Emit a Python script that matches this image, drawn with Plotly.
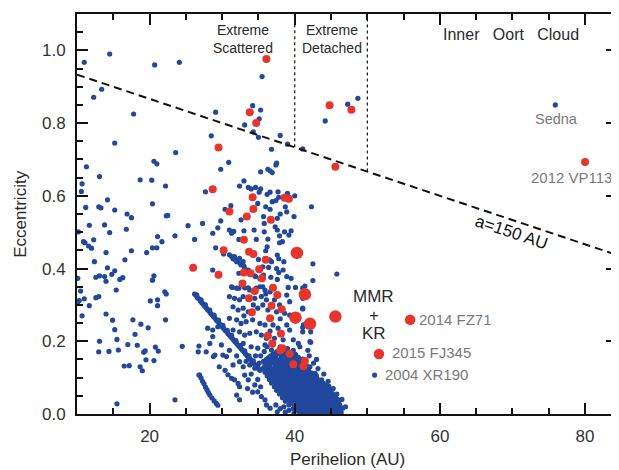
import plotly.graph_objects as go

# ---------------- data (perihelion q [AU], eccentricity e) ----------------
# sparse, low-perihelion population (q < 26 AU)
sparse_pts = [
    (14.5,0.99),(11.0,0.967),(20.7,0.96),(24.1,0.967),(13.4,0.893),(12.3,0.871),(17.8,0.825),
    (15.2,0.745),(23.6,0.719),(20.6,0.695),(21.0,0.688),(11.3,0.68),(13.1,0.653),(18.7,0.644),
    (20.3,0.643),(22.2,0.627),(10.7,0.633),(10.6,0.612),(14.2,0.589),(20.4,0.578),(11.2,0.568),
    (13.0,0.57),(13.3,0.567),(15.2,0.561),(16.9,0.55),(17.5,0.54),(22.3,0.545),(22.5,0.546),
    (11.7,0.519),(13.8,0.52),(16.8,0.508),(25.3,0.518),(14.5,0.499),(10.2,0.501),(10.9,0.474),
    (11.1,0.471),(12.3,0.479),(11.6,0.462),(12.0,0.456),(21.1,0.488),(21.7,0.474),(23.5,0.49),
    (20.4,0.457),(21.0,0.457),(17.5,0.449),(14.0,0.444),(19.6,0.444),(12.4,0.419),(16.6,0.424),
    (14.2,0.402),(15.2,0.394),(14.8,0.384),(12.6,0.376),(13.1,0.38),(13.8,0.378),(14.0,0.365),
    (15.9,0.37),(16.3,0.375),(20.6,0.38),(20.4,0.368),(10.1,0.373),(15.4,0.341),(10.5,0.338),
    (22.1,0.336),(22.3,0.33),(12.6,0.32),(13.0,0.323),(11.0,0.317),(10.3,0.312),(10.1,0.307),
    (20.1,0.311),(21.1,0.314),(21.1,0.298),(11.7,0.298),(10.7,0.27),(14.0,0.275),(14.9,0.258),
    (17.7,0.259),(22.2,0.259),(18.8,0.247),(19.8,0.237),(15.2,0.232),(18.0,0.219),(15.5,0.205),
    (13.1,0.2),(17.0,0.191),(18.3,0.189),(24.5,0.186),(13.0,0.171),(14.4,0.172),(15.7,0.176),
    (19.2,0.17),(19.4,0.174),(20.8,0.184),(21.2,0.173),(16.5,0.132),(17.2,0.133),(18.7,0.13),
    (19.0,0.119),(19.5,0.149),(20.6,0.147),(15.5,0.028),(23.5,0.039),
]

# scattered / detached objects, e > 0.33 region
upper_pts = [
    (35.5,0.928),(29.1,0.83),(34.2,0.848),(35.3,0.836),(35.1,0.812),(33.1,0.795),(34.3,0.776),
    (35.0,0.761),(28.5,0.765),(38.0,0.766),(36.8,0.728),(39.0,0.742),(41.1,0.729),(44.2,0.806),
    (47.3,0.852),(48.7,0.868),(30.9,0.692),(37.5,0.69),(37.4,0.685),(29.8,0.673),(36.3,0.673),
    (42.3,0.57),(35.3,0.666),(36.6,0.669),(36.9,0.664),(33.0,0.641),(32.4,0.627),(33.6,0.623),
    (34.0,0.619),(34.6,0.623),(35.3,0.619),(27.7,0.611),(35.1,0.61),(36.6,0.61),(36.2,0.604),
    (37.7,0.611),(39.0,0.607),(40.0,0.6),(37.8,0.596),(37.4,0.587),(36.9,0.584),(34.9,0.579),
    (36.0,0.57),(30.4,0.563),(31.2,0.573),(36.6,0.563),(38.7,0.57),(38.9,0.556),(38.0,0.55),
    (39.9,0.543),(35.7,0.543),(37.6,0.538),(29.8,0.531),(32.6,0.534),(27.3,0.524),(35.8,0.524),
    (37.3,0.515),(37.6,0.506),(34.4,0.506),(35.8,0.501),(33.0,0.504),(31.6,0.502),(31.3,0.497),
    (38.6,0.501),(39.2,0.492),(39.5,0.504),(37.9,0.49),(26.2,0.48),(32.3,0.48),(34.7,0.48),
    (36.3,0.481),(37.9,0.471),(38.3,0.474),(36.2,0.46),(36.0,0.449),(29.1,0.457),(31.0,0.438),
    (31.3,0.433),(31.5,0.427),(31.8,0.424),(32.0,0.419),(32.4,0.416),(32.6,0.41),(33.0,0.407),
    (30.2,0.44),(37.6,0.437),(37.8,0.427),(35.0,0.425),(36.5,0.424),(36.8,0.419),(38.5,0.419),
    (42.5,0.413),(28.7,0.396),(35.6,0.405),(36.4,0.403),(37.5,0.4),(37.8,0.389),(38.4,0.396),
    (33.6,0.396),(33.1,0.4),(32.3,0.387),(34.5,0.38),(35.7,0.382),(36.7,0.376),(37.6,0.37),
    (38.9,0.378),(39.5,0.373),(41.4,0.352),(42.5,0.367),(31.4,0.348),(32.3,0.346),(33.6,0.347),
    (34.7,0.346),(35.6,0.35),(39.1,0.348),(40.1,0.348),(45.8,0.385),(31.7,0.433),(32.4,0.428),
    (32.9,0.419),(28.7,0.497),(29.4,0.512),(31.0,0.506),(33.4,0.392),(34.0,0.385),(34.6,0.378),
    (35.2,0.372),(41.1,0.346),
]

# 3:2 resonance ridge (Plutinos)
plutino_pts = [
    (26.2,0.330),(26.4,0.326),(26.6,0.320),(26.8,0.317),(27.0,0.311),(27.2,0.306),(27.4,0.302),
    (27.6,0.296),(27.8,0.292),(28.0,0.287),(28.2,0.283),(28.4,0.277),(28.6,0.273),(28.8,0.268),
    (29.0,0.264),(29.2,0.258),(29.4,0.255),(29.6,0.249),(29.8,0.245),(30.0,0.240),(30.2,0.236),
    (30.4,0.230),(30.6,0.227),(30.8,0.221),(31.0,0.217),(31.2,0.212),(31.4,0.208),(31.6,0.203),
    (31.8,0.198),(32.0,0.194),(32.2,0.189),(32.4,0.185),(32.6,0.180),(32.8,0.175),(33.0,0.171),
    (33.2,0.166),(33.4,0.161),(33.6,0.157),(33.8,0.152),(34.0,0.148),(34.2,0.143),(34.4,0.138),
    (34.6,0.134),(34.8,0.129),(35.0,0.125),(35.2,0.120),
    (26.5,0.328),(27.1,0.314),(27.7,0.300),(28.3,0.286),(28.9,0.272),(29.5,0.258),(30.1,0.244),
    (30.7,0.230),(31.3,0.216),(31.9,0.202),(32.5,0.188),(33.1,0.174),(33.7,0.160),(34.3,0.146),
    (34.9,0.132),
]

# short ridge near Neptune's orbit
ridge_pts = [
    (26.9,0.107),(27.1,0.099),(27.3,0.09),(27.5,0.083),(27.7,0.074),(27.9,0.067),(28.1,0.059),
    (28.3,0.052),(28.6,0.044),(28.9,0.036),(29.2,0.029),(29.4,0.024),
]

# objects above the Plutino ridge (0.15 < e < 0.35)
mid_pts = [
    (31.3,0.35),(32.0,0.346),(33.1,0.347),(33.8,0.341),(35.2,0.35),(35.9,0.341),(36.6,0.336),
    (31.0,0.323),(31.7,0.318),(32.4,0.314),(32.9,0.323),(34.5,0.318),(35.4,0.323),(36.1,0.314),
    (37.2,0.314),(38.9,0.327),(39.3,0.309),(31.5,0.295),(32.2,0.286),(32.9,0.291),(33.6,0.281),
    (34.9,0.291),(35.6,0.3),(36.3,0.286),(37.5,0.281),(38.6,0.277),(39.3,0.272),(41.1,0.291),
    (31.0,0.263),(32.0,0.259),(32.6,0.249),(33.3,0.254),(34.2,0.259),(35.2,0.249),(35.9,0.245),
    (37.0,0.245),(37.7,0.236),(38.9,0.245),(39.3,0.231),(41.1,0.226),(31.5,0.231),(32.4,0.226),
    (33.1,0.217),(33.8,0.222),(34.7,0.226),(35.4,0.217),(36.1,0.208),(37.2,0.208),(38.4,0.204),
    (39.8,0.204),(40.5,0.194),(32.9,0.194),(34.0,0.185),(34.9,0.181),(35.9,0.19),(36.8,0.176),
    (37.5,0.171),(38.6,0.171),(39.3,0.162),(40.2,0.153),(41.1,0.318),(41.1,0.289),(41.2,0.245),
    (41.1,0.238),(42.2,0.226),(42.2,0.197),(42.1,0.199),(40.7,0.185),(41.8,0.175),(42.0,0.16),
    (43.0,0.15),(36.0,0.33),(37.9,0.3),(38.0,0.262),(36.6,0.228),(34.3,0.3),(33.0,0.27),
    (35.3,0.16),(35.8,0.172),(36.2,0.185),(37.0,0.19),(38.0,0.185),(39.0,0.18),(39.8,0.175),
    (34.6,0.16),(35.1,0.14),
]

# objects below / left of the Plutino ridge
low_pts = [
    (26.8,0.187),(26.7,0.171),(27.8,0.171),(28.3,0.194),(28.7,0.213),(28.0,0.236),(29.0,0.162),
    (28.8,0.158),(30.1,0.162),(30.6,0.158),(29.9,0.19),(28.7,0.231),(29.4,0.24),(31.3,0.098),
    (31.7,0.094),(32.2,0.084),(32.4,0.075),(31.5,0.135),(33.1,0.107),(33.6,0.094),(34.5,0.08),
    (34.9,0.061),(35.4,0.048),(35.9,0.039),(36.1,0.025),(36.6,0.016),(33.8,0.135),(34.5,0.126),
    (32.4,0.144),(32.9,0.13),(30.4,0.12),(29.6,0.13),(31.0,0.175),(32.0,0.16),(33.3,0.145),
    (34.0,0.11),(34.9,0.095),(35.3,0.075),(34.2,0.06),(32.0,0.052),(32.4,0.039),(33.5,0.07),
    (30.8,0.108),(26.8,0.107),
]

# classical Kuiper belt (dense core)
classical_pts = [
    (37.0,0.165),(37.8,0.166),(38.6,0.163),(39.4,0.166),(40.1,0.164),
    (36.4,0.155),(37.3,0.156),(38.1,0.153),(38.9,0.157),(39.7,0.154),(40.5,0.156),
    (35.7,0.145),(36.5,0.146),(37.2,0.143),(37.9,0.147),(38.6,0.144),(39.3,0.146),(40.0,0.143),(40.8,0.146),
    (35.9,0.135),(36.6,0.136),(37.4,0.133),(38.1,0.137),(38.8,0.134),(39.5,0.136),(40.2,0.133),(41.0,0.136),(41.6,0.134),
    (35.6,0.125),(36.3,0.126),(37.0,0.123),(37.7,0.127),(38.3,0.124),(39.0,0.126),(39.6,0.123),(40.3,0.127),(41.0,0.124),(41.7,0.126),
    (35.9,0.115),(36.6,0.116),(37.3,0.113),(38.0,0.117),(38.6,0.114),(39.2,0.116),(39.8,0.113),(40.4,0.117),(41.0,0.114),(41.6,0.116),(42.2,0.113),
    (36.2,0.105),(36.9,0.106),(37.5,0.103),(38.1,0.107),(38.7,0.104),(39.3,0.106),(39.9,0.103),(40.5,0.107),(41.1,0.104),(41.7,0.106),(42.3,0.103),(43.0,0.105),
    (36.5,0.095),(37.2,0.096),(37.8,0.093),(38.4,0.097),(39.0,0.094),(39.6,0.096),(40.2,0.093),(40.8,0.097),(41.3,0.094),(41.9,0.096),(42.5,0.093),(43.1,0.097),(43.7,0.094),
    (36.8,0.085),(37.5,0.086),(38.1,0.083),(38.7,0.087),(39.3,0.084),(39.8,0.086),(40.4,0.083),(41.0,0.087),(41.5,0.084),(42.1,0.086),(42.7,0.083),(43.3,0.087),(43.9,0.084),
    (37.2,0.075),(37.9,0.076),(38.5,0.073),(39.0,0.077),(39.6,0.074),(40.1,0.076),(40.7,0.073),(41.2,0.077),(41.8,0.074),(42.3,0.076),(42.9,0.073),(43.5,0.077),(44.1,0.074),(44.7,0.076),
    (37.5,0.065),(38.2,0.066),(38.8,0.063),(39.4,0.067),(39.9,0.064),(40.5,0.066),(41.0,0.063),(41.5,0.067),(42.0,0.064),(42.6,0.066),(43.1,0.063),(43.7,0.067),(44.3,0.064),(44.9,0.066),
    (37.9,0.055),(38.6,0.056),(39.2,0.053),(39.7,0.057),(40.3,0.054),(40.8,0.056),(41.3,0.053),(41.8,0.057),(42.3,0.054),(42.9,0.056),(43.4,0.053),(44.0,0.057),(44.6,0.054),(45.2,0.056),
    (38.3,0.045),(39.0,0.046),(39.6,0.043),(40.1,0.047),(40.7,0.044),(41.2,0.046),(41.7,0.043),(42.2,0.047),(42.8,0.044),(43.3,0.046),(43.9,0.043),(44.5,0.047),(45.1,0.044),(45.6,0.046),
    (38.7,0.035),(39.4,0.036),(40.0,0.033),(40.6,0.037),(41.1,0.034),(41.6,0.036),(42.1,0.033),(42.7,0.037),(43.2,0.034),(43.8,0.036),(44.4,0.033),(45.0,0.037),(45.6,0.034),(46.1,0.036),
    (37.4,0.025),(39.2,0.025),(39.9,0.026),(40.5,0.023),(41.0,0.027),(41.6,0.024),(42.1,0.026),(42.6,0.023),(43.2,0.027),(43.7,0.024),(44.3,0.026),(44.9,0.023),(45.5,0.027),(46.0,0.024),
    (38.0,0.015),(39.8,0.015),(40.5,0.016),(41.1,0.013),(41.7,0.017),(42.3,0.014),(42.8,0.016),(43.4,0.013),(44.0,0.017),(44.6,0.014),(45.2,0.016),(45.8,0.013),(46.4,0.016),
    (37.6,0.006),(38.7,0.005),(40.6,0.006),(41.4,0.005),(42.1,0.007),(42.8,0.005),(43.5,0.006),(44.2,0.005),(44.9,0.007),(45.6,0.005),(46.3,0.006),
    (46.2,0.025),(46.6,0.016),(46.4,0.004),(47.0,0.02),(46.5,0.04),(45.8,0.055),(45.3,0.07),(44.6,0.09),
    (44.0,0.11),(43.2,0.125),(42.6,0.14),(42.1,0.13),(42.8,0.112),(43.9,0.084),(45.1,0.034),
]

# classical Kuiper belt, in-between objects
classical_fill_pts = [
    (36.7,0.160),(37.4,0.161),(38.2,0.159),(39.0,0.160),(39.8,0.158),
    (36.1,0.150),(36.9,0.151),(37.6,0.149),(38.3,0.150),(39.0,0.152),(39.7,0.149),(40.4,0.150),(41.1,0.151),
    (36.2,0.140),(36.9,0.141),(37.6,0.139),(38.4,0.140),(39.1,0.142),(39.8,0.139),(40.5,0.140),(41.3,0.141),
    (35.9,0.130),(36.6,0.131),(37.3,0.129),(38.0,0.130),(38.7,0.132),(39.3,0.129),(40.0,0.130),(40.7,0.131),(41.4,0.129),
    (36.2,0.120),(36.9,0.121),(37.6,0.119),(38.3,0.120),(38.9,0.122),(39.5,0.119),(40.1,0.120),(40.7,0.121),(41.3,0.119),(41.9,0.120),
    (36.5,0.110),(37.2,0.111),(37.8,0.109),(38.4,0.110),(39.0,0.112),(39.6,0.109),(40.2,0.110),(40.8,0.111),(41.4,0.109),(42.0,0.110),(42.6,0.111),
    (36.8,0.100),(37.5,0.101),(38.1,0.099),(38.7,0.100),(39.3,0.102),(39.9,0.099),(40.5,0.100),(41.0,0.101),(41.6,0.099),(42.2,0.100),(42.8,0.101),
    (37.1,0.090),(37.8,0.091),(38.4,0.089),(39.0,0.090),(39.6,0.092),(40.1,0.089),(40.7,0.090),(41.3,0.091),(41.8,0.089),(42.4,0.090),(43.0,0.091),(43.5,0.089),
    (37.5,0.080),(38.2,0.081),(38.8,0.079),(39.3,0.080),(39.9,0.082),(40.4,0.079),(41.0,0.080),(41.5,0.081),(42.1,0.079),(42.6,0.080),(43.2,0.081),(43.8,0.079),(44.4,0.080),
    (37.8,0.070),(38.5,0.071),(39.1,0.069),(39.6,0.070),(40.2,0.072),(40.7,0.069),(41.3,0.070),(41.8,0.071),(42.3,0.069),(42.9,0.070),(43.4,0.071),(44.0,0.069),(44.6,0.070),
    (38.2,0.060),(38.9,0.061),(39.5,0.059),(40.0,0.060),(40.6,0.062),(41.1,0.059),(41.6,0.060),(42.1,0.061),(42.7,0.059),(43.2,0.060),(43.7,0.061),(44.3,0.059),(44.9,0.060),
    (38.6,0.050),(39.3,0.051),(39.9,0.049),(40.4,0.050),(41.0,0.052),(41.5,0.049),(42.0,0.050),(42.5,0.051),(43.1,0.049),(43.6,0.050),(44.2,0.051),(44.8,0.049),(45.4,0.050),
    (39.0,0.040),(39.7,0.041),(40.3,0.039),(40.9,0.040),(41.4,0.042),(41.9,0.039),(42.4,0.040),(43.0,0.041),(43.5,0.039),(44.1,0.040),(44.7,0.041),(45.3,0.039),(45.9,0.040),
    (39.5,0.030),(40.2,0.031),(40.8,0.029),(41.3,0.030),(41.9,0.032),(42.4,0.029),(42.9,0.030),(43.5,0.031),(44.0,0.029),(44.6,0.030),(45.2,0.031),(45.8,0.029),
    (38.5,0.020),(40.1,0.021),(40.8,0.019),(41.4,0.020),(42.0,0.022),(42.5,0.019),(43.1,0.020),(43.7,0.021),(44.3,0.019),(44.9,0.020),(45.5,0.021),(46.1,0.019),
    (39.2,0.010),(40.4,0.011),(41.1,0.009),(41.8,0.010),(42.5,0.012),(43.2,0.009),(43.9,0.010),(44.6,0.011),(45.3,0.009),(46.0,0.010),
    (39.9,0.002),(41.0,0.003),(41.8,0.002),(42.5,0.003),(43.2,0.002),(43.9,0.003),(44.6,0.002),(45.3,0.003),(46.0,0.002),
]

# isolated blue objects
far_pts = [(75.9,0.85),(51.0,0.107)]

# red symbols (highlighted objects)
red_pts = [
    (36.1,0.976),(33.8,0.83),(34.7,0.80),(29.5,0.733),(44.8,0.849),(47.8,0.837),(45.6,0.68),
    (28.7,0.618),(38.6,0.595),(39.2,0.592),(34.2,0.596),(31.0,0.557),(34.3,0.564),(33.4,0.543),
    (36.7,0.534),(33.0,0.479),(30.2,0.45),(33.7,0.446),(34.3,0.44),(36.0,0.424),(26.0,0.402),
    (29.5,0.383),(35.1,0.398),(33.0,0.389),(33.9,0.387),(35.5,0.373),(32.8,0.359),(37.0,0.347),
    (34.5,0.338),(37.6,0.327),(33.7,0.318),(36.8,0.298),(38.2,0.288),(34.1,0.28),(36.6,0.263),
    (38.1,0.221),(36.3,0.215),(36.9,0.194),(38.3,0.181),(38.0,0.175),(39.3,0.166),(39.8,0.137),
    (41.4,0.146),(41.2,0.131),(80.0,0.693),
]
red_big_pts = [(40.3,0.443),(41.4,0.329),(45.6,0.268),(40.1,0.265),(42.1,0.248)]
red_mid_pts = [(51.6,0.165),(55.9,0.259)]

SEMI_MAJOR_LIMIT = 150.0          # a = 150 AU boundary
REGION_EDGES = [40.0, 50.0]       # q boundaries of the extreme regions
X_RANGE = [10.0, 84.4]
Y_RANGE = [0.0, 1.1]

BLUE = "#21489c"
RED = "#e8352b"
FONT = "Liberation Sans, Arial, sans-serif"
GRAY = "#7a7a7a"
TXT = "#2a2a2a"

def unzip(pts):
    return [p[0] for p in pts], [p[1] for p in pts]

fig = go.Figure()

for pts in [sparse_pts, upper_pts, plutino_pts, ridge_pts, mid_pts, low_pts,
            classical_pts, classical_fill_pts, far_pts]:
    xs, ys = unzip(pts)
    fig.add_trace(go.Scatter(x=xs, y=ys, mode="markers", hoverinfo="skip",
                             marker=dict(size=5.2, color=BLUE, line=dict(width=0))))

for pts, sz in [(red_pts, 8), (red_mid_pts, 10.5), (red_big_pts, 12.5)]:
    xs, ys = unzip(pts)
    fig.add_trace(go.Scatter(x=xs, y=ys, mode="markers", hoverinfo="skip",
                             marker=dict(size=sz, color=RED, line=dict(width=0))))

# a = 150 AU line: e = 1 - q/a
lx = X_RANGE
ly = [1 - q / SEMI_MAJOR_LIMIT for q in lx]
fig.add_trace(go.Scatter(x=lx, y=ly, mode="lines", hoverinfo="skip",
                         line=dict(color="#111", width=2, dash="8px,5px")))
for q in REGION_EDGES:
    fig.add_trace(go.Scatter(x=[q, q], y=[1 - q / SEMI_MAJOR_LIMIT, Y_RANGE[1]], mode="lines",
                             hoverinfo="skip", line=dict(color="#111", width=1.2, dash="dot")))

def ann(text, x, y, size=14, color=TXT, xanchor="center", angle=0):
    fig.add_annotation(text=text, x=x, y=y, xref="x", yref="y", showarrow=False,
                       font=dict(family=FONT, size=size, color=color), xanchor=xanchor,
                       yanchor="middle", textangle=angle)

ann("Extreme<br>Scattered", 32.9, 1.032, 14)
ann("Extreme<br>Detached", 45.1, 1.032, 14)
ann("Inner   Oort   Cloud", 69.8, 1.045, 16)
ann("Sedna", 76.0, 0.811, 14.5, GRAY)
ann("2012 VP113", 84.0, 0.650, 15, GRAY, xanchor="right")
ann("2014 FZ71", 62.2, 0.260, 15, GRAY)
ann("2015 FJ345", 58.8, 0.169, 15, GRAY)
ann("2004 XR190", 58.2, 0.109, 15, GRAY)
ann("MMR", 50.9, 0.323, 17)
ann("+", 50.9, 0.270, 17)
ann("KR", 50.9, 0.222, 17)
ann("a=150 AU", 69.9, 0.50, 17, "#111", angle=18.5)

# axis titles (placed relative to the plot area)
fig.add_annotation(text="Perihelion (AU)", xref="paper", yref="paper", x=0.5, y=-0.1125,
                   showarrow=False, xanchor="center", yanchor="middle",
                   font=dict(family=FONT, size=17, color=TXT))
fig.add_annotation(text="Eccentricity", xref="paper", yref="paper", x=-0.106, y=0.5,
                   showarrow=False, xanchor="center", yanchor="middle", textangle=-90,
                   font=dict(family=FONT, size=17, color=TXT))

axis_common = dict(showgrid=False, zeroline=False, showline=True, linewidth=2, linecolor="#111",
                   mirror="ticks", ticks="inside", ticklen=11, tickwidth=1.5, tickcolor="#111",
                   automargin=False,
                   tickfont=dict(family=FONT, size=17, color="#333"))
fig.update_xaxes(range=X_RANGE, tick0=0, dtick=20, ticklabelstandoff=6,
                 minor=dict(dtick=5, tick0=0, ticks="inside", ticklen=6, tickwidth=1.5, tickcolor="#111"),
                 **axis_common)
fig.update_yaxes(range=Y_RANGE, tick0=0, dtick=0.2, tickformat=".1f", ticklabelstandoff=6,
                 minor=dict(dtick=0.05, tick0=0, ticks="inside", ticklen=6, tickwidth=1.5, tickcolor="#111"),
                 **axis_common)
# the page body adds an 8px offset, so the figure is sized to land the plot box
# at the same pixel position as the reference
fig.update_layout(width=611, height=462, margin=dict(l=69, r=2, t=6, b=56),
                  plot_bgcolor="white", paper_bgcolor="white", showlegend=False)

fig.write_html("out.html")
